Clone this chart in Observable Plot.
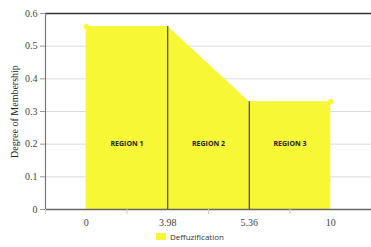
<!DOCTYPE html>
<html><head><meta charset="utf-8">
<script src="https://cdn.jsdelivr.net/npm/d3@7"></script>
<script src="https://cdn.jsdelivr.net/npm/@observablehq/plot@0.6"></script>
<style>
body{margin:0;background:#fff;}
#legend{font-family:"Open Sans",sans-serif;font-size:8px;color:#333;display:flex;align-items:center;margin-left:156px;margin-top:3px;}
#legend span.sw{display:inline-block;width:10px;height:7px;background:#f7f736;margin-right:4px;}
</style></head>
<body>
<div id="chart"></div>
<script>
const categories = ["0", "3.98", "5.36", "10"];
const membership = [0.56, 0.56, 0.33, 0.33];
const regionLabels = ["REGION 1", "REGION 2", "REGION 3"];
const yTicks = [0, 0.1, 0.2, 0.3, 0.4, 0.5, 0.6];
const seriesName = "Deffuzification";

const data = categories.map((c, i) => ({i, c, v: membership[i]}));
const regions = regionLabels.map((r, i) => ({x: i + 0.5, y: 0.2, r}));
const yellow = "#f7f736";

const chart = Plot.plot({
  width: 371, height: 228,
  marginLeft: 45, marginRight: 0, marginTop: 13, marginBottom: 19,
  style: {fontFamily: "'Liberation Serif', serif", fontSize: "10px", color: "#444"},
  x: {domain: [-0.5, 3.5]},
  y: {domain: [0, 0.6]},
  marks: [
    Plot.gridY(yTicks.slice(1, -1), {stroke: "#dcdcdc", strokeOpacity: 1}),
    Plot.areaY(data, {x: "i", y: "v", fill: yellow, curve: "linear"}),
    Plot.ruleX(data.filter(d => d.i === 1 || d.i === 2), {x: "i", y1: 0, y2: "v", stroke: "#222", strokeWidth: 1}),
    Plot.dot(data.filter(d => d.i === 0 || d.i === 3), {x: "i", y: "v", r: 2.6, fill: yellow, stroke: null}),
    Plot.text(regions, {x: "x", y: "y", text: "r", fontFamily: "'Open Sans', sans-serif", fontSize: 7, fontWeight: "bold", fill: "#222"}),
    Plot.ruleY([0.6], {stroke: "#333", strokeWidth: 1.5}),
    Plot.ruleY([0], {stroke: "#666", strokeWidth: 1.5}),
    Plot.ruleX([-0.5], {stroke: "#777", strokeWidth: 1.2}),
    Plot.axisY(yTicks, {tickSize: 5, tickPadding: 3, stroke: "#999", fill: "#444", label: null, tickFormat: d => String(d)}),
    Plot.text(["Degree of Membership"], {frameAnchor: "left", textAnchor: "middle", dx: -31, rotate: -90, fontSize: 10, fill: "#222", fontFamily: "'Liberation Serif', serif"}),
    Plot.axisX([-0.5, 0.5, 1.5, 2.5], {tickSize: 5, stroke: "#ccc", tickFormat: () => "", label: null}),
    Plot.axisX([0, 1, 2, 3], {tickSize: 0, tickPadding: 9, tickFormat: i => categories[i], fill: "#444", label: null})
  ]
});
document.getElementById("chart").appendChild(chart);
const lg = document.createElement("div");
lg.id = "legend";
lg.innerHTML = `<span class="sw"></span><span></span>`;
lg.lastChild.textContent = seriesName;
document.body.appendChild(lg);
</script>
</body></html>
